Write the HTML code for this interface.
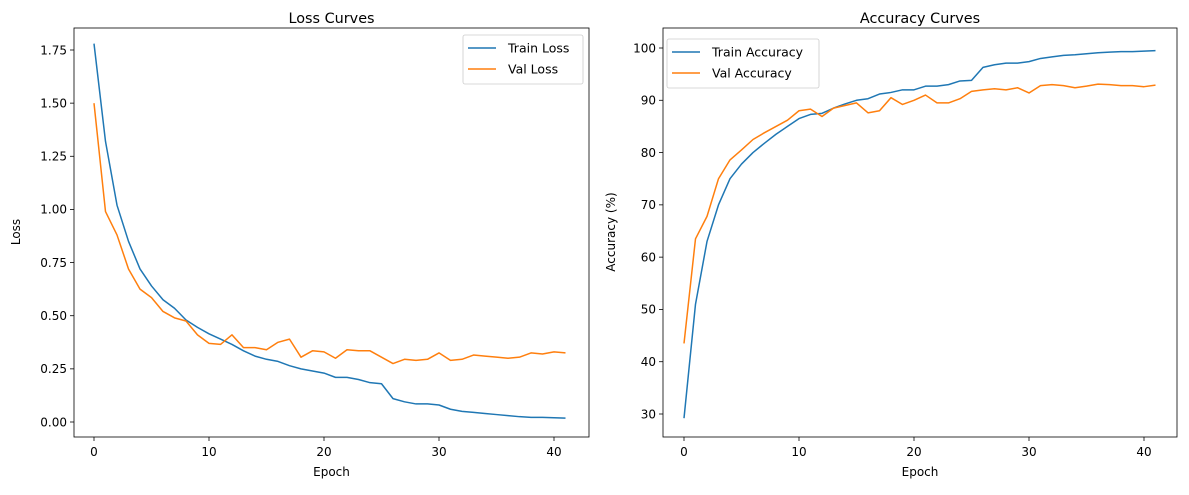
<!DOCTYPE html>
<html><head><meta charset="utf-8"><style>
body{margin:0;background:#fff;font-family:"Liberation Sans","DejaVu Sans",sans-serif}
svg text{font-family:"DejaVu Sans","Liberation Sans",sans-serif;fill:#000}
</style></head><body>
<svg id="c" width="1189" height="490"></svg>
<script>
const epochs=[...Array(42).keys()];
const trainLoss=[1.78,1.32,1.02,0.85,0.72,0.64,0.575,0.535,0.48,0.445,0.415,0.39,0.365,0.335,0.31,0.295,0.285,0.265,0.25,0.24,0.23,0.21,0.21,0.2,0.185,0.18,0.11,0.095,0.085,0.085,0.08,0.06,0.05,0.045,0.04,0.035,0.03,0.025,0.022,0.022,0.02,0.018];
const valLoss=[1.50,0.99,0.88,0.72,0.625,0.585,0.52,0.49,0.475,0.41,0.37,0.365,0.41,0.35,0.35,0.34,0.375,0.39,0.305,0.335,0.33,0.30,0.34,0.335,0.335,0.305,0.275,0.295,0.29,0.295,0.325,0.29,0.295,0.315,0.31,0.305,0.30,0.305,0.325,0.32,0.33,0.325];
const trainAcc=[29.2,51,63,70,75,77.8,80,81.8,83.5,85,86.5,87.3,87.5,88.5,89.3,90,90.3,91.2,91.5,92,92,92.7,92.7,93,93.7,93.8,96.3,96.8,97.1,97.1,97.4,98,98.3,98.6,98.7,98.9,99.1,99.2,99.3,99.3,99.4,99.5];
const valAcc=[43.5,63.5,67.8,75,78.6,80.5,82.5,83.8,85,86.2,88,88.3,86.9,88.5,89,89.5,87.6,88,90.5,89.2,90,91,89.5,89.5,90.3,91.7,92,92.2,92,92.4,91.4,92.8,93,92.8,92.4,92.7,93.1,93,92.8,92.8,92.6,92.9];
const xTicks=[0,10,20,30,40];
const lossTicks=[0,0.25,0.5,0.75,1.0,1.25,1.5,1.75];
const accTicks=[30,40,50,60,70,80,90,100];
const svg=document.getElementById('c');
const NS='http://www.w3.org/2000/svg';
function mk(t,a,p){const e=document.createElementNS(NS,t);for(const k in a)e.setAttribute(k,a[k]);(p||svg).appendChild(e);return e;}
function panel(o){
  const g=mk('g',{});
  
  
  const X=v=>o.x0+(v-0)*(o.x40-o.x0)/40;
  const Y=v=>o.yA+(v-o.vA)*(o.yB-o.yA)/(o.vB-o.vA);
  const pl=(arr,col,nm)=>{const p=mk('polyline',{points:arr.map((v,i)=>X(epochs[i])+','+Y(v)).join(' '),fill:'none',stroke:col,'stroke-width':1.5,'stroke-linejoin':'round'},g);
    };
  pl(o.s1,'#1f77b4',o.n1);pl(o.s2,'#ff7f0e',o.n2);
  const r=mk('rect',{x:o.L,y:28,width:o.R-o.L,height:409,fill:'none',stroke:'#000','stroke-width':0.8},g);
  
  xTicks.forEach(t=>{const x=X(t);mk('line',{x1:x,x2:x,y1:437,y2:441,stroke:'#000','stroke-width':0.8},g);
    const tx=mk('text',{x:x,y:456,'text-anchor':'middle','font-size':12},g);tx.textContent=t;
    });
  o.ticks.forEach(t=>{const y=Y(t);mk('line',{x1:o.L-4,x2:o.L,y1:y,y2:y,stroke:'#000','stroke-width':0.8},g);
    const tx=mk('text',{x:o.L-7,y:y+4.3,'text-anchor':'end','font-size':12},g);tx.textContent=o.fmt(t);
    });
  const ti=mk('text',{x:(o.L+o.R)/2,y:23,'text-anchor':'middle','font-size':14.4},g);ti.textContent=o.title;
  
  const xl=mk('text',{x:(o.L+o.R)/2,y:476,'text-anchor':'middle','font-size':12},g);xl.textContent='Epoch';
  
  const yl=mk('text',{x:0,y:0,'text-anchor':'middle','font-size':12,transform:`translate(${o.ylx},232) rotate(-90)`},g);yl.textContent=o.ylabel;
  
  const lg=mk('g',{},g);
  mk('rect',{x:o.lx,y:o.ly,width:o.lw,height:49,rx:2,fill:'#fff','fill-opacity':0.8,stroke:'#ccc','stroke-width':0.8},lg);
  [[o.n1Label,'#1f77b4'],[o.n2Label,'#ff7f0e']].forEach((e,i)=>{const yy=o.ly+13+i*21;
    mk('line',{x1:o.lx+5,x2:o.lx+33,y1:yy,y2:yy,stroke:e[1],'stroke-width':1.5},lg);
    const t=mk('text',{x:o.lx+45,y:yy+4.5,'font-size':12.5},lg);t.textContent=e[0];
    });
}
panel({name:'loss-chart',L:74,R:589,x0:94,x40:554,yA:422,vA:0,yB:50,vB:1.75,s1:trainLoss,s2:valLoss,n1:'train-loss-line',n2:'val-loss-line',
  ticks:lossTicks,fmt:t=>t.toFixed(2),title:'Loss Curves',ylabel:'Loss',ylx:20,lx:463,ly:35,lw:120,n1Label:'Train Loss',n2Label:'Val Loss'});
panel({name:'accuracy-chart',L:663,R:1177,x0:684,x40:1144,yA:414,vA:30,yB:48,vB:100,s1:trainAcc,s2:valAcc,n1:'train-accuracy-line',n2:'val-accuracy-line',
  ticks:accTicks,fmt:t=>t,title:'Accuracy Curves',ylabel:'Accuracy (%)',ylx:615,lx:667,ly:39,lw:152,n1Label:'Train Accuracy',n2Label:'Val Accuracy'});
</script>
</body></html>
